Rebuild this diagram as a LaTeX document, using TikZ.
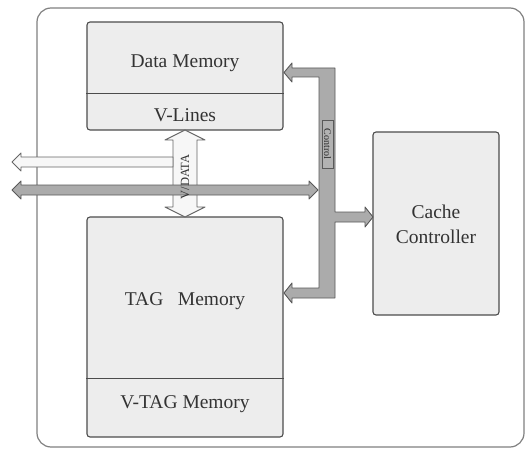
\documentclass[tikz,border=0pt]{standalone}
\usepackage{fontspec}
\setmainfont{Liberation Serif}
\begin{document}
\begin{tikzpicture}[x=1pt,y=-1pt,
  boxcol/.style={draw=black!70, fill=black!7, line width=1.1pt, rounded corners=3pt},
  memtext/.style={text=black!80, font=\fontsize{19.5}{25}\selectfont},
  graybus/.style={draw=black!65, fill=black!33, line width=0.9pt, line join=round},
  whitebus/.style={draw=black!60, fill=black!3, line width=0.9pt, line join=round},
  divider/.style={draw=black!70, line width=1.1pt}]
\useasboundingbox (0,0) rectangle (528,452);
% outer frame
\node[draw=black!50, line width=1.2pt, rounded corners=14pt, minimum width=487pt, minimum height=439pt, inner sep=0pt] (frame) at (280.5,227.5) {};
% memory boxes
\node[boxcol, minimum width=196pt, minimum height=108pt, inner sep=0pt] (dm) at (185,76) {};
\draw[divider] ([yshift=37pt]dm.south west) -- ([yshift=37pt]dm.south east);
\node[memtext] (dmt) at (185,63) {Data Memory};
\node[memtext] (vl) at (185,115) {V-Lines};
\node[boxcol, minimum width=196pt, minimum height=220pt, inner sep=0pt] (tag) at (185,327) {};
\draw[divider] ([yshift=59pt]tag.south west) -- ([yshift=59pt]tag.south east);
\node[memtext] (tagt) at (185,301) {TAG\ \ \ Memory};
\node[memtext] (vtag) at (185,404) {V-TAG Memory};
\node[boxcol, minimum width=126pt, minimum height=183pt, inner sep=0pt] (cc) at (436,223.5) {};
\node[memtext, align=center] (cct) at (436,224) {Cache\\Controller};
% V/DATA vertical double arrow
\path[whitebus] (185,130) -- (205,140) -- (197,140) -- (197,207) -- (205,207) -- (185,217)
  -- (165,207) -- (173,207) -- (173,140) -- (165,140) -- cycle;
% white bus to the left
\path[whitebus] (12,162) -- (21,153) -- (21,157) -- (173,157) -- (173,167) -- (21,167) -- (21,171) -- cycle;
% gray bus double arrow
\path[graybus] (12,190) -- (21,181) -- (21,185) -- (309,185) -- (309,181) -- (318,190)
  -- (309,199) -- (309,195) -- (21,195) -- (21,199) -- cycle;
\node[text=black!80, font=\fontsize{12.5}{14}\selectfont, rotate=90, inner sep=0pt] (vdata) at (185,177) {V/DATA};
% control bus
\path[graybus] (284,72.5) -- (292,63) -- (292,68) -- (335,68) -- (335,212) -- (365,212) -- (365,207)
  -- (373,217) -- (365,227) -- (365,222) -- (335,222) -- (335,298) -- (292,298) -- (292,303)
  -- (284,293) -- (292,283) -- (292,288) -- (319,288) -- (319,77) -- (292,77) -- (292,82) -- cycle;
\node[draw=black!65, fill=black!30, line width=0.8pt, minimum width=11pt, minimum height=48pt, inner sep=0pt] (ctlbox) at (327.5,144) {};
\node[text=black!85, font=\fontsize{10}{12}\selectfont, rotate=-90, inner sep=0pt] (ctl) at (ctlbox.center) {Control};
\end{tikzpicture}
\end{document}
